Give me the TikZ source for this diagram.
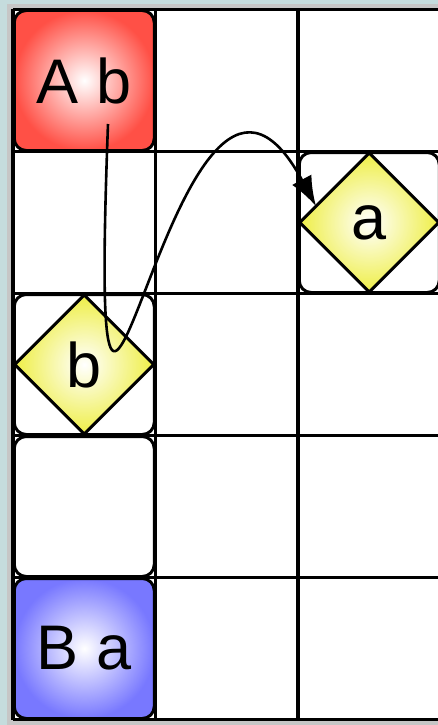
\documentclass[tikz,border=0pt]{standalone}
\usepackage{fontspec}
\setmainfont{Liberation Sans}
\usetikzlibrary{shapes.geometric, arrows.meta, positioning}

\definecolor{bgblue}{RGB}{197,220,221}
\definecolor{boxred}{RGB}{255,80,70}
\definecolor{boxblue}{RGB}{120,120,255}
\definecolor{boxyellow}{RGB}{238,238,70}

\begin{document}
\begin{tikzpicture}[
    x=1pt, y=-1pt,
    gridline/.style={line width=3.4pt, black},
    cellbox/.style={draw, line width=3pt, rounded corners=12pt, minimum width=140pt, minimum height=140pt, fill=white, inner sep=0pt, outer sep=0pt, font=\fontsize{63}{70}\selectfont},
    redbox/.style={shading=radial, inner color=white, outer color=boxred},
    bluebox/.style={shading=radial, inner color=white, outer color=boxblue},
    choice/.style={diamond, draw, line width=3pt, minimum width=139pt, minimum height=139pt, aspect=1, inner sep=0pt, outer sep=0pt, shading=radial, inner color=white, outer color=boxyellow, font=\fontsize{63}{70}\selectfont},
    curve/.style={line width=2.6pt, -{Latex[length=30pt, width=22pt]}}
]
\useasboundingbox (0,0) rectangle (438,725);
\clip (0,0) rectangle (438,725);

% background and panel shadow
\fill[bgblue] (0,0) rectangle (438,725);
\fill[gray!45] (7,4) rectangle (445,725);
\fill[white] (13,9.5) rectangle (445,719.5);

% ----------------------------------------------------
% grid
% ----------------------------------------------------
\foreach \gx in {13,155.5,298,440.5}
    \draw[gridline] (\gx,9.5) -- (\gx,719.5);
\foreach \gy in {9.5,151.5,293.5,435.5,577.5,719.5}
    \draw[gridline] (13,\gy) -- (440.5,\gy);

% ----------------------------------------------------
% boxes in the cells
% ----------------------------------------------------
\node[cellbox, redbox] (Ab) at (84.25,80.5) {A b};
\node[cellbox] (cellb) at (84.25,364.5) {};
\node[cellbox] (cellempty) at (84.25,506.5) {};
\node[cellbox, bluebox] (Ba) at (84.25,648.5) {B a};
\node[cellbox] (cella) at (369.25,222.5) {};

\node[choice] (b) at (cellb) {b};
\node[choice] (a) at (cella) {a};

% ----------------------------------------------------
% connector
% ----------------------------------------------------
\coordinate (tail) at (108,124);
\draw[curve] (tail) .. controls (86,715) and (172,-62) .. (a.163);

\end{tikzpicture}
\end{document}
